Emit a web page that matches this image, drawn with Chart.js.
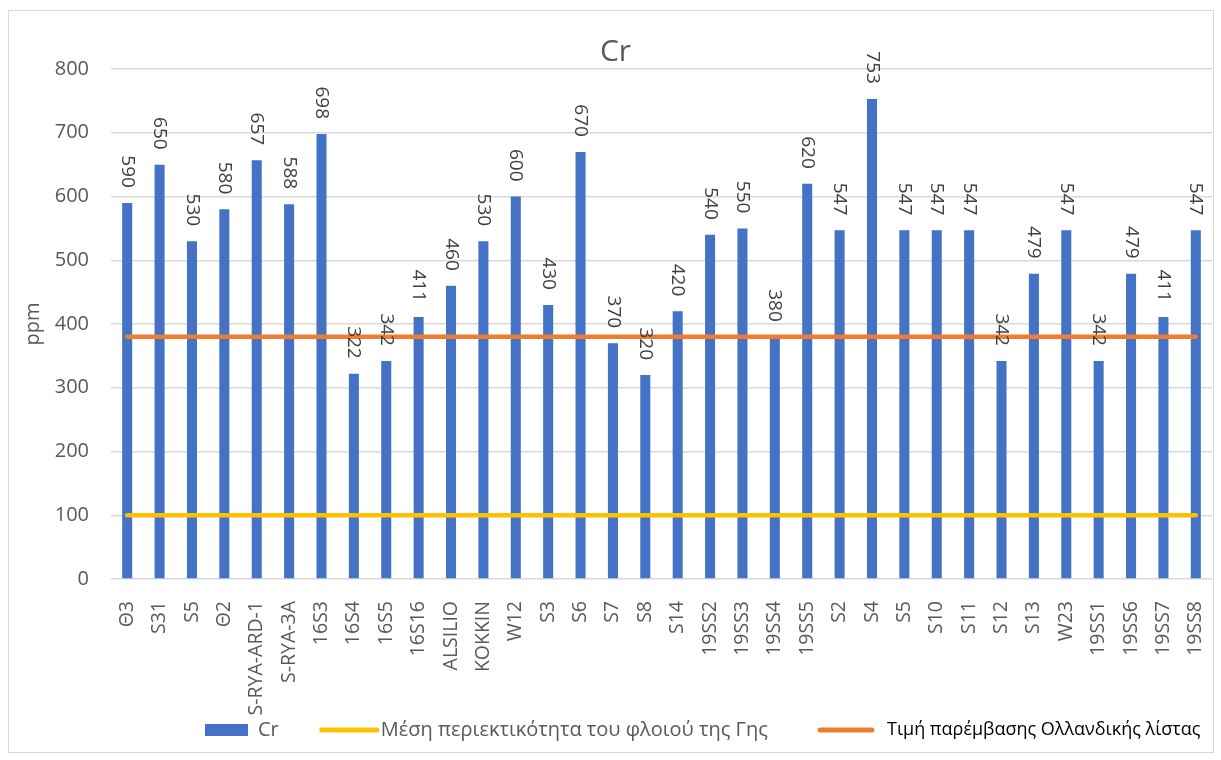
<!DOCTYPE html>
<html>
<head>
<meta charset="utf-8">
<script src="https://cdn.jsdelivr.net/npm/chart.js@4.4.1/dist/chart.umd.min.js"></script>
<style>
  html, body { margin: 0; padding: 0; background: #ffffff; }
  #wrap { width: 1221px; height: 760px; position: relative; }
</style>
</head>
<body>
<div id="wrap"><canvas id="c" width="1221" height="760"></canvas></div>
<script>
// Sample codes along the x axis
const categories = ["Θ3","S31","S5","Θ2","S-RYA-ARD-1","S-RYA-3A","16S3","16S4","16S5","16S16",
  "ALSILIO","KOKKIN","W12","S3","S6","S7","S8","S14","19SS2","19SS3","19SS4","19SS5",
  "S2","S4","S5","S10","S11","S12","S13","W23","19SS1","19SS6","19SS7","19SS8"];

// Cr concentration per sample (ppm)
const crValues = [590,650,530,580,657,588,698,322,342,411,460,530,600,430,670,370,320,420,
  540,550,380,620,547,753,547,547,547,342,479,547,342,479,411,547];

// Average crustal abundance (ppm), constant across samples
const crustAverage = [100,100,100,100,100,100,100,100,100,100,100,100,100,100,100,100,100,
  100,100,100,100,100,100,100,100,100,100,100,100,100,100,100,100,100];

// Dutch list intervention value (ppm), constant across samples
const dutchIntervention = [380,380,380,380,380,380,380,380,380,380,380,380,380,380,380,380,380,
  380,380,380,380,380,380,380,380,380,380,380,380,380,380,380,380,380];

const yTicks = [0,100,200,300,400,500,600,700,800];

const FONT = "'Open Sans', 'DejaVu Sans', sans-serif";
const GREY = '#595959';

// Frame around the whole chart
const framePlugin = {
  id: 'frame',
  beforeDraw(chart) {
    const ctx = chart.ctx;
    ctx.save();
    ctx.fillStyle = '#ffffff';
    ctx.fillRect(0, 0, chart.width, chart.height);
    ctx.strokeStyle = '#D9D9D9';
    ctx.lineWidth = 1;
    ctx.strokeRect(8.5, 10.5, 1205, 742);
    ctx.restore();
  }
};

// Chart heading, centred on the canvas
const headingPlugin = {
  id: 'heading',
  afterDraw(chart) {
    const ctx = chart.ctx;
    ctx.save();
    ctx.font = "30px " + FONT;
    ctx.fillStyle = GREY;
    ctx.textAlign = 'center';
    ctx.textBaseline = 'middle';
    ctx.fillText('Cr', chart.width / 2 + 5, 52);
    ctx.restore();
  }
};

// Vertical value labels above each bar
const barLabelPlugin = {
  id: 'barLabels',
  afterDatasetsDraw(chart) {
    const ctx = chart.ctx;
    const meta = chart.getDatasetMeta(0);
    ctx.save();
    ctx.font = "19px " + FONT;
    ctx.fillStyle = '#404040';
    ctx.textAlign = 'right';
    ctx.textBaseline = 'middle';
    meta.data.forEach((bar, i) => {
      ctx.save();
      ctx.translate(bar.x, bar.y - 15);
      ctx.rotate(Math.PI / 2);
      ctx.fillText(String(crValues[i]), 0, 0);
      ctx.restore();
    });
    ctx.restore();
  }
};

// Legend row at the bottom
const legendPlugin = {
  id: 'bottomLegend',
  afterDraw(chart) {
    const ctx = chart.ctx;
    const y = 730;
    let x = 205;
    ctx.save();
    ctx.textBaseline = 'middle';
    ctx.textAlign = 'left';

    const ds = chart.data.datasets;
    // bar swatch
    ctx.fillStyle = ds[0].backgroundColor;
    ctx.fillRect(x, y - 6, 43, 12);
    x += 43 + 10;
    ctx.font = "20px " + FONT;
    ctx.fillStyle = GREY;
    ctx.fillText(ds[0].label, x, y);
    x += ctx.measureText(ds[0].label).width + 43;

    // line swatch 1
    ctx.lineCap = 'round';
    ctx.lineWidth = 5;
    ctx.strokeStyle = ds[1].borderColor;
    ctx.beginPath(); ctx.moveTo(x, y); ctx.lineTo(x + 55, y); ctx.stroke();
    x += 59;
    ctx.fillStyle = GREY;
    ctx.fillText(ds[1].label, x, y);

    // line swatch 2
    x = 820;
    ctx.strokeStyle = ds[2].borderColor;
    ctx.beginPath(); ctx.moveTo(x, y); ctx.lineTo(x + 52, y); ctx.stroke();
    x = 887;
    ctx.font = "18px " + FONT;
    ctx.fillStyle = '#000000';
    ctx.fillText(ds[2].label, x, y);
    ctx.restore();
  }
};

new Chart(document.getElementById('c'), {
  data: {
    labels: categories,
    datasets: [
      {
        type: 'bar',
        label: 'Cr',
        data: crValues,
        backgroundColor: '#4472C4',
        barPercentage: 0.62,
        categoryPercentage: 0.5,
        order: 3
      },
      {
        type: 'line',
        label: 'Μέση περιεκτικότητα του φλοιού της Γης',
        data: crustAverage,
        borderColor: '#FFC000',
        borderWidth: 4.5,
        pointRadius: 0,
        borderCapStyle: 'round',
        fill: false,
        order: 2
      },
      {
        type: 'line',
        label: 'Τιμή παρέμβασης Ολλανδικής λίστας',
        data: dutchIntervention,
        borderColor: '#ED7D31',
        borderWidth: 4.5,
        pointRadius: 0,
        borderCapStyle: 'round',
        fill: false,
        order: 1
      }
    ]
  },
  options: {
    responsive: false,
    animation: false,
    layout: { padding: { left: 10, right: 9, top: 69, bottom: 41 } },
    plugins: {
      legend: { display: false },
      title: { display: false },
      tooltip: { enabled: false }
    },
    scales: {
      x: {
        offset: true,
        grid: { display: false },
        border: { display: false },
        ticks: {
          autoSkip: false,
          minRotation: 90,
          maxRotation: 90,
          padding: 14,
          color: GREY,
          font: { family: FONT, size: 19.5 }
        },
        afterFit(scale) {
          scale.height = 140;
          scale.paddingLeft = 0;
          scale.paddingRight = 0;
        }
      },
      y: {
        min: 0,
        max: 800,
        afterBuildTicks(scale) { scale.ticks = yTicks.map(v => ({ value: v })); },
        grid: { color: '#D9D9D9', lineWidth: 1.5, drawTicks: false },
        border: { display: false },
        ticks: {
          padding: 22,
          color: GREY,
          font: { family: FONT, size: 20 }
        },
        title: {
          display: true,
          text: 'ppm',
          color: GREY,
          font: { family: FONT, size: 20 },
          padding: { top: 11, bottom: 0 }
        },
        afterFit(scale) { scale.width = 101; }
      }
    }
  },
  plugins: [framePlugin, headingPlugin, barLabelPlugin, legendPlugin]
});
</script>
</body>
</html>
